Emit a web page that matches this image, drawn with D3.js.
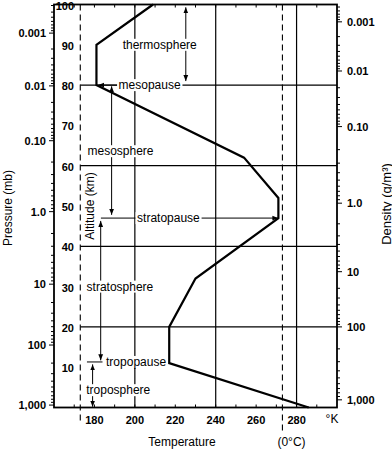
<!DOCTYPE html>
<html><head><meta charset="utf-8">
<script src="https://cdn.jsdelivr.net/npm/d3@7"></script>
<style>body{margin:0;background:#fff} svg{display:block}</style>
</head><body><svg id="c" width="392" height="450"></svg>
<script>
// ---- data ----
const profileTemp = [286, 217, 217, 230, 271, 271, 254, 181, 181, 209];
const profileAlt  = [0, 11, 20, 32, 47, 52, 62, 80, 90, 100];
const altitudeTicks = [10, 20, 30, 40, 50, 60, 70, 80, 90, 100];
const temperatureTicks = [180, 200, 220, 240, 260, 280];
const temperatureMinor = [170, 180, 190, 200, 210, 220, 230, 240, 250, 260, 270, 280, 290];
const pressureLabels = ["0.001", "0.01", "0.10", "1.0", "10", "100", "1,000"];
const pressureLog = [-3, -2, -1, 0, 1, 2, 3];
const pressureAlt = [92.9, 79.8, 66.2, 48.6, 30.6, 15.5, 0.6];
const densityLabels = ["0.001", "0.01", "0.10", "1.0", "10", "100", "1,000"];
const densityLog = [-3, -2, -1, 0, 1, 2, 3];
const densityAlt = [95.7, 83.5, 69.7, 50.7, 33.7, 20.0, 1.9];
const gridAlt = [20, 40, 60, 80];
const gridTemp = [200, 240, 280];
const dashedTemp = [173, 273];

const svg = d3.select("#c");
const F = "'Liberation Sans', Arial, Helvetica, sans-serif";
const x = d3.scaleLinear().domain([160, 300]).range([54, 337]);
const y = d3.scaleLinear().domain([0, 100]).range([407.5, 4.5]);
const pScale = d3.scaleLinear().domain(pressureLog).range(pressureAlt);
const dScale = d3.scaleLinear().domain(densityLog).range(densityAlt);

svg.append("defs").append("marker").attr("id", "ah")
  .attr("viewBox", "0 0 10 10").attr("refX", 10).attr("refY", 5)
  .attr("markerWidth", 6).attr("markerHeight", 6).attr("markerUnits", "userSpaceOnUse")
  .attr("orient", "auto-start-reverse")
  .append("path").attr("d", "M0,1 L10,5 L0,9 Z").attr("fill", "#000");

const g = svg.append("g");

// grid
g.selectAll(".gh").data(gridAlt).join("line")
  .attr("x1", x(173)).attr("x2", x(300)).attr("y1", d => y(d)).attr("y2", d => y(d))
  .attr("stroke", "#000").attr("stroke-width", 1.2);
g.selectAll(".gv").data(gridTemp).join("line")
  .attr("x1", d => x(d)).attr("x2", d => x(d)).attr("y1", y(0)).attr("y2", y(100))
  .attr("stroke", "#000").attr("stroke-width", 1.2);
g.selectAll(".gd").data(dashedTemp).join("line")
  .attr("x1", d => x(d)).attr("x2", d => x(d)).attr("y1", y(100)).attr("y2", (d, i) => i ? 433 : 423)
  .attr("stroke", "#000").attr("stroke-width", 1.1).attr("stroke-dasharray", "6,4");

// frame
g.append("rect").attr("x", x(160)).attr("y", y(100)).attr("width", x(300) - x(160)).attr("height", y(0) - y(100))
  .attr("fill", "none").attr("stroke", "#000").attr("stroke-width", 1.8);

// top/bottom inner ticks
g.selectAll(".tb").data(temperatureMinor).join("line")
  .attr("x1", d => x(d)).attr("x2", d => x(d)).attr("y1", y(0)).attr("y2", y(0) - 3)
  .attr("stroke", "#000");
g.selectAll(".tt").data(temperatureMinor).join("line")
  .attr("x1", d => x(d)).attr("x2", d => x(d)).attr("y1", y(100)).attr("y2", y(100) + 3)
  .attr("stroke", "#000");

// log ticks
function logTicks(scale, xpos, dir) {
  const ticks = [];
  for (let k = -4; k <= 3; k++) for (let m = 1; m <= 9; m++) {
    const v = k + Math.log10(m);
    const a = scale(v);
    if (a >= 0 && a <= 100) ticks.push({a, major: m === 1});
  }
  g.selectAll(null).data(ticks).join("line")
    .attr("x1", xpos).attr("x2", d => xpos + dir * (d.major ? 5 : 3))
    .attr("y1", d => y(d.a)).attr("y2", d => y(d.a))
    .attr("stroke", "#000").attr("stroke-width", 1);
}
logTicks(pScale, x(160), -1);
logTicks(dScale, x(300), 1);

// temperature profile
const line = d3.line().x(d => x(d[0])).y(d => y(d[1]));
g.append("path").datum(profileTemp.map((t, i) => [t, profileAlt[i]]))
  .attr("d", line).attr("fill", "none").attr("stroke", "#000").attr("stroke-width", 2.2)
  .attr("stroke-linejoin", "miter");

// arrows
function arrow(t1, a1, t2, a2, both) {
  const l = g.append("line").attr("x1", x(t1)).attr("y1", y(a1)).attr("x2", x(t2)).attr("y2", y(a2))
    .attr("stroke", "#000").attr("stroke-width", 1).attr("marker-end", "url(#ah)");
  if (both) l.attr("marker-start", "url(#ah)");
}
arrow(225.2, 81, 225.2, 99.3, true);       // thermosphere
arrow(191.2, 80, 181.9, 80, false);        // mesopause
arrow(188.5, 79.7, 188.5, 47.8, true);     // mesosphere
arrow(183.2, 47, 271, 47, false);          // stratopause
g.append("line").attr("x1", x(183.1)).attr("x2", x(183.1)).attr("y1", y(30)).attr("y2", y(46.3))
  .attr("stroke", "#000").attr("marker-end", "url(#ah)");
g.append("line").attr("x1", x(183.1)).attr("x2", x(183.1)).attr("y1", y(30)).attr("y2", y(11.7))
  .attr("stroke", "#000").attr("marker-end", "url(#ah)");
g.append("line").attr("x1", x(176.3)).attr("x2", x(184)).attr("y1", y(11.3)).attr("y2", y(11.3))
  .attr("stroke", "#000");
g.append("line").attr("x1", x(179.1)).attr("x2", x(179.1)).attr("y1", y(4.3)).attr("y2", y(10.7))
  .attr("stroke", "#000").attr("marker-end", "url(#ah)");
g.append("line").attr("x1", x(179.1)).attr("x2", x(179.1)).attr("y1", y(4.3)).attr("y2", y(0.2))
  .attr("stroke", "#000").attr("marker-end", "url(#ah)");

// labels with white background
const labels = [
  {text: "thermosphere", t: 212.3, a: 90},
  {text: "mesopause", t: 207.3, a: 80},
  {text: "mesosphere", t: 192.9, a: 63.6},
  {text: "stratopause", t: 216.6, a: 47},
  {text: "stratosphere", t: 192.6, a: 30},
  {text: "tropopause", t: 200.6, a: 11.3},
  {text: "troposphere", t: 191.8, a: 4.3}
];
labels.forEach(L => {
  const gg = g.append("g");
  const r = gg.append("rect").attr("fill", "#fff");
  const tx = gg.append("text").attr("x", x(L.t)).attr("y", y(L.a)).attr("text-anchor", "middle")
    .attr("dominant-baseline", "central").attr("font-family", F).attr("font-size", 12).text(L.text);
  const b = tx.node().getBBox();
  r.attr("x", b.x - 1.5).attr("y", b.y + 1).attr("width", b.width + 3).attr("height", b.height - 2);
});

// altitude labels (inside)
g.selectAll(".al").data(altitudeTicks).join("text")
  .attr("x", 74).attr("y", d => y(d) + 1).attr("text-anchor", "end").attr("dominant-baseline", "central")
  .attr("font-family", F).attr("font-size", 11).attr("font-weight", "bold").text(d => d);

// pressure labels
g.selectAll(".pl").data(pressureLabels).join("text")
  .attr("x", 46).attr("y", (d, i) => y(pressureAlt[i])).attr("text-anchor", "end").attr("dominant-baseline", "central")
  .attr("font-family", F).attr("font-size", 11).attr("font-weight", "bold").text(d => d);

// density labels
g.selectAll(".dl").data(densityLabels).join("text")
  .attr("x", 347).attr("y", (d, i) => y(densityAlt[i])).attr("text-anchor", "start").attr("dominant-baseline", "central")
  .attr("font-family", F).attr("font-size", 11).attr("font-weight", "bold").text(d => d);

// temperature labels
g.selectAll(".tl").data(temperatureTicks).join("text")
  .attr("x", d => x(d)).attr("y", 420).attr("text-anchor", "middle").attr("dominant-baseline", "central")
  .attr("font-family", F).attr("font-size", 11).attr("font-weight", "bold").text(d => d);
g.append("text").attr("x", 332).attr("y", 419).attr("text-anchor", "middle").attr("dominant-baseline", "central")
  .attr("font-family", F).attr("font-size", 12).text("°K");
g.append("text").attr("x", 182).attr("y", 442).attr("text-anchor", "middle").attr("dominant-baseline", "central")
  .attr("font-family", F).attr("font-size", 12).text("Temperature");
g.append("text").attr("x", 291.5).attr("y", 442).attr("text-anchor", "middle").attr("dominant-baseline", "central")
  .attr("font-family", F).attr("font-size", 12).text("(0°C)");

// axis titles
function vtext(px, py, txt, size) {
  g.append("text").attr("transform", `translate(${px},${py}) rotate(-90)`).attr("text-anchor", "middle")
    .attr("dominant-baseline", "central").attr("font-family", F).attr("font-size", size).text(txt);
}
vtext(8, 208, "Pressure (mb)", 12);
vtext(89.5, 206, "Altitude (km)", 12);
vtext(386, 204, "Density (g/m³)", 13);
</script></body></html>
